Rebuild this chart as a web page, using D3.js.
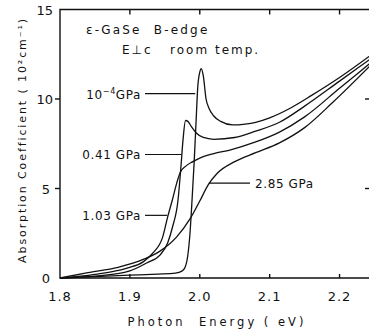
<!DOCTYPE html>
<html>
<head>
<meta charset="utf-8">
<script src="https://cdn.jsdelivr.net/npm/d3@7"></script>
<style>
  body { margin: 0; background: white; }
  svg text { font-family: "DejaVu Sans", sans-serif; fill: #111; white-space: pre; }
</style>
</head>
<body>
<script>
// absorption spectra, [photon energy (eV), alpha (10^2 cm^-1)]
const curveAmbient = [[1.80,0.0],[1.85,0.08],[1.90,0.16],[1.94,0.22],[1.965,0.27],[1.975,0.4],[1.979,0.6],[1.983,1.3],[1.986,2.5],[1.989,4.4],[1.992,6.5],[1.995,9.0],[1.997,10.6],[2.0,11.5],[2.0022,11.7],[2.005,11.3],[2.009,10.0],[2.013,9.5],[2.02,9.05],[2.03,8.75],[2.047,8.55],[2.065,8.6],[2.08,8.7],[2.10,8.95],[2.13,9.5],[2.16,10.2],[2.20,11.2],[2.25,12.6]];
const curve041 = [[1.80,0.0],[1.85,0.1],[1.90,0.4],[1.924,0.84],[1.943,1.28],[1.954,1.96],[1.961,2.85],[1.969,4.4],[1.973,6.2],[1.976,7.7],[1.9796,8.8],[1.983,8.75],[1.988,8.45],[1.995,8.1],[2.005,7.85],[2.02,7.75],[2.05,7.85],[2.08,8.2],[2.114,8.7],[2.15,9.6],[2.20,11.0],[2.25,12.4]];
const curve103 = [[1.80,0.0],[1.85,0.2],[1.896,0.55],[1.919,0.9],[1.933,1.4],[1.947,2.3],[1.954,3.4],[1.961,4.4],[1.967,5.3],[1.972,5.9],[1.98,6.25],[1.99,6.5],[2.0,6.7],[2.02,6.95],[2.043,7.15],[2.08,7.6],[2.114,8.15],[2.15,9.0],[2.20,10.6],[2.25,12.2]];
const curve285 = [[1.80,0.0],[1.84,0.3],[1.883,0.6],[1.92,1.05],[1.943,1.5],[1.967,2.3],[1.986,3.3],[2.0,4.3],[2.012,5.2],[2.025,5.85],[2.05,6.5],[2.08,7.0],[2.114,7.55],[2.15,8.4],[2.19,9.8],[2.25,12.1]];

const xTicks = [1.8, 1.9, 2.0, 2.1, 2.2];
const yTicks = [0, 5, 10, 15];

// label text and the point on the curve the leader goes to
const curveLabels = [
    {text: "10", sup: "\u22124", unit: "GPa", at: [1.9935, 10.3]},
    {text: "0.41", sup: "", unit: " GPa", at: [1.9735, 6.9]},
    {text: "1.03", sup: "", unit: " GPa", at: [1.9535, 3.5]}
];

const svg = d3.select("body").append("svg").attr("width", 369).attr("height", 332);

const xScale = d3.scaleLinear().domain([1.8, 2.25]).range([60, 374.5]);
const yScale = d3.scaleLinear().domain([0, 15]).range([278, 9.5]);

const frame = svg.append("g").attr("stroke", "#111").attr("stroke-width", 1.4).attr("fill", "none");
// box
frame.append("path").attr("d", `M${xScale(2.28)},${yScale(15)}H${xScale(1.8)}V${yScale(0)}H${xScale(2.28)}`);
frame.append("line").attr("x1", 373).attr("x2", 373).attr("y1", yScale(0)).attr("y2", yScale(15));

// x ticks (inward on top and bottom)
xTicks.slice(1).forEach(t => {
    frame.append("line").attr("x1", xScale(t)).attr("x2", xScale(t)).attr("y1", yScale(0)).attr("y2", yScale(0) - 4);
    frame.append("line").attr("x1", xScale(t)).attr("x2", xScale(t)).attr("y1", yScale(15)).attr("y2", yScale(15) + 5);
});
// y ticks (outward on left, inward on right)
yTicks.slice(1, 3).forEach(t => {
    frame.append("line").attr("x1", xScale(1.8) - 5).attr("x2", xScale(1.8)).attr("y1", yScale(t)).attr("y2", yScale(t));
    frame.append("line").attr("x1", 373).attr("x2", 365).attr("y1", yScale(t)).attr("y2", yScale(t));
});

svg.selectAll("text.xt").data(xTicks).join("text").attr("class", "xt")
    .attr("x", d => xScale(d)).attr("y", 301).attr("text-anchor", "middle")
    .attr("font-size", 13).attr("letter-spacing", 1).text(d => d.toFixed(1));
svg.selectAll("text.yt").data(yTicks).join("text").attr("class", "yt")
    .attr("x", d => d >= 10 ? 53 : 50).attr("y", d => yScale(d) + 5).attr("text-anchor", "end")
    .attr("font-size", 13).text(d => d);

// axis titles
svg.append("text").attr("x", 217).attr("y", 326).attr("text-anchor", "middle")
    .attr("font-size", 11.5).attr("letter-spacing", 3).text("Photon  Energy ( eV)");
svg.append("text").attr("transform", "translate(26,140) rotate(-90)").attr("text-anchor", "middle")
    .attr("font-size", 11).attr("letter-spacing", 1.9).text("Absorption Coefficient ( 10\u00B2cm\u207B\u00B9)");

// curves
const line = d3.line().x(d => xScale(d[0])).y(d => yScale(d[1])).curve(d3.curveMonotoneX);
const curves = [curveAmbient, curve041, curve103, curve285];
svg.append("g").selectAll("path").data(curves).join("path")
    .attr("d", line).attr("fill", "none").attr("stroke", "#111").attr("stroke-width", 1.3);

// labels with leader lines
curveLabels.forEach(l => {
    const yl = yScale(l.at[1]);
    svg.append("line").attr("x1", 145).attr("x2", xScale(l.at[0]))
        .attr("y1", yl).attr("y2", yl).attr("stroke", "#111").attr("stroke-width", 1.2);
    const t = svg.append("text").attr("x", 141).attr("y", yl + 5)
        .attr("text-anchor", "end").attr("font-size", 12).attr("letter-spacing", 0.6);
    t.append("tspan").text(l.text);
    if (l.sup) t.append("tspan").attr("dy", -5).attr("font-size", 8).text(l.sup);
    t.append("tspan").attr("dy", l.sup ? 5 : 0).text(l.unit);
});
const hi = yScale(5.3);
svg.append("line").attr("x1", xScale(2.013)).attr("x2", 250).attr("y1", hi).attr("y2", hi)
    .attr("stroke", "#111").attr("stroke-width", 1.2);
svg.append("text").attr("x", 255).attr("y", hi + 5).attr("font-size", 12).attr("letter-spacing", 0.6).text("2.85 GPa");

// panel title
svg.append("text").attr("x", 86).attr("y", 34).attr("font-size", 12).attr("letter-spacing", 2.2)
    .text("\u03B5-GaSe  B-edge");
svg.append("text").attr("x", 122).attr("y", 54).attr("font-size", 12).attr("letter-spacing", 2.0)
    .text("E\u22A5c   room temp.");
</script>
</body>
</html>
